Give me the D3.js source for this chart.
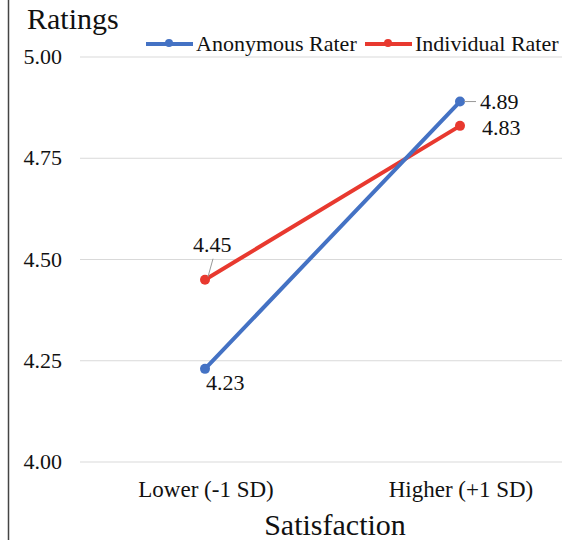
<!DOCTYPE html>
<html>
<head>
<meta charset="utf-8">
<script src="https://cdn.jsdelivr.net/npm/d3@7"></script>
<style>
  body { margin: 0; background: #fff; }
</style>
</head>
<body>
<div id="chart"></div>
<script>
// Chart data
const categories = ["Lower (-1 SD)", "Higher (+1 SD)"];
const seriesNames = ["Anonymous Rater", "Individual Rater"];
const anonymousValues = [4.23, 4.89];
const individualValues = [4.45, 4.83];
const yTicks = [4.00, 4.25, 4.50, 4.75, 5.00];

const colors = ["#4472c4", "#e8392f"];
const FONT = "'Liberation Serif'";

const width = 562, height = 540;

const svg = d3.select("#chart").append("svg")
    .attr("width", width)
    .attr("height", height);

// helper so every label gets the serif face
function label(sel) {
    return sel.style("font-family", FONT).style("fill", "#111");
}

// Scales
const x = d3.scaleBand()
    .domain(categories)
    .range([77.5, 587.5]);

const y = d3.scaleLinear()
    .domain([4, 5])
    .range([462, 57]);

// Left frame line
svg.append("line")
    .attr("x1", 8.5).attr("x2", 8.5)
    .attr("y1", 0).attr("y2", height)
    .attr("stroke", "#444")
    .attr("stroke-width", 1.5);

// Gridlines
svg.append("g")
  .selectAll("line")
  .data(yTicks)
  .join("line")
    .attr("x1", 80)
    .attr("x2", width)
    .attr("y1", d => y(d))
    .attr("y2", d => y(d))
    .attr("stroke", "#d9d9d9")
    .attr("stroke-width", 1);

// Y tick labels
svg.append("g")
  .selectAll("text")
  .data(yTicks)
  .join("text")
    .attr("x", 62)
    .attr("y", d => y(d) + 7)
    .attr("text-anchor", "end")
    .attr("font-size", 22)
    .call(label)
    .text(d => d.toFixed(2));

// X category labels
svg.append("g")
  .selectAll("text")
  .data(categories)
  .join("text")
    .attr("x", d => x(d) + x.bandwidth() / 2 + 1)
    .attr("y", 497)
    .attr("text-anchor", "middle")
    .attr("font-size", 23)
    .call(label)
    .text(d => d);

// Axis titles
svg.append("text")
    .attr("x", 27)
    .attr("y", 29)
    .attr("font-size", 30)
    .call(label)
    .text("Ratings");

svg.append("text")
    .attr("x", 335)
    .attr("y", 535)
    .attr("text-anchor", "middle")
    .attr("font-size", 30)
    .call(label)
    .text("Satisfaction");

// Series lines and markers
const series = [anonymousValues, individualValues].map((vals, i) => ({
    name: seriesNames[i],
    color: colors[i],
    points: categories.map((c, j) => ({ cat: c, value: vals[j] }))
}));

const line = d3.line()
    .x(d => x(d.cat) + x.bandwidth() / 2)
    .y(d => y(d.value));

// red first, blue on top
[series[1], series[0]].forEach(s => {
    svg.append("path")
        .datum(s.points)
        .attr("d", line)
        .attr("fill", "none")
        .attr("stroke", s.color)
        .attr("stroke-width", 4)
        .attr("stroke-linecap", "round");
    svg.append("g")
      .selectAll("circle")
      .data(s.points)
      .join("circle")
        .attr("cx", d => x(d.cat) + x.bandwidth() / 2)
        .attr("cy", d => y(d.value))
        .attr("r", 5)
        .attr("fill", s.color);
});

// Data labels (offsets in px from the point)
const labelOffsets = [
    [{ dx: 1, dy: 21, leader: false }, { dx: 20, dy: 7, leader: false }],
    [{ dx: -12, dy: -28, leader: true }, { dx: 22, dy: 9, leader: false }]
];

series.forEach((s, i) => {
    s.points.forEach((p, j) => {
        const px = x(p.cat) + x.bandwidth() / 2, py = y(p.value);
        const o = labelOffsets[i][j];
        svg.append("text")
            .attr("x", px + o.dx)
            .attr("y", py + o.dy)
            .attr("font-size", 22)
            .call(label)
            .text(p.value.toFixed(2));
        if (o.leader) {
            svg.append("line")
                .attr("x1", px + 3).attr("y1", py - 3)
                .attr("x2", px + 8).attr("y2", py - 21)
                .attr("stroke", "#999")
                .attr("stroke-width", 1);
        }
    });
});
// leader for blue upper point
{
    const px = x(categories[1]) + x.bandwidth() / 2, py = y(anonymousValues[1]);
    svg.append("line")
        .attr("x1", px + 4).attr("y1", py)
        .attr("x2", px + 16).attr("y2", py)
        .attr("stroke", "#999")
        .attr("stroke-width", 1);
}

// Legend
const legend = svg.append("g");
const legendItems = [
    { name: seriesNames[0], color: colors[0], x: 146 },
    { name: seriesNames[1], color: colors[1], x: 365 }
];
legendItems.forEach(d => {
    legend.append("line")
        .attr("x1", d.x).attr("x2", d.x + 47)
        .attr("y1", 44).attr("y2", 44)
        .attr("stroke", d.color)
        .attr("stroke-width", 4);
    legend.append("circle")
        .attr("cx", d.x + 23).attr("cy", 43)
        .attr("r", 4)
        .attr("fill", d.color);
    legend.append("text")
        .attr("x", d.x + 50)
        .attr("y", 51)
        .attr("font-size", 22)
        .call(label)
        .text(d.name);
});
</script>
</body>
</html>
